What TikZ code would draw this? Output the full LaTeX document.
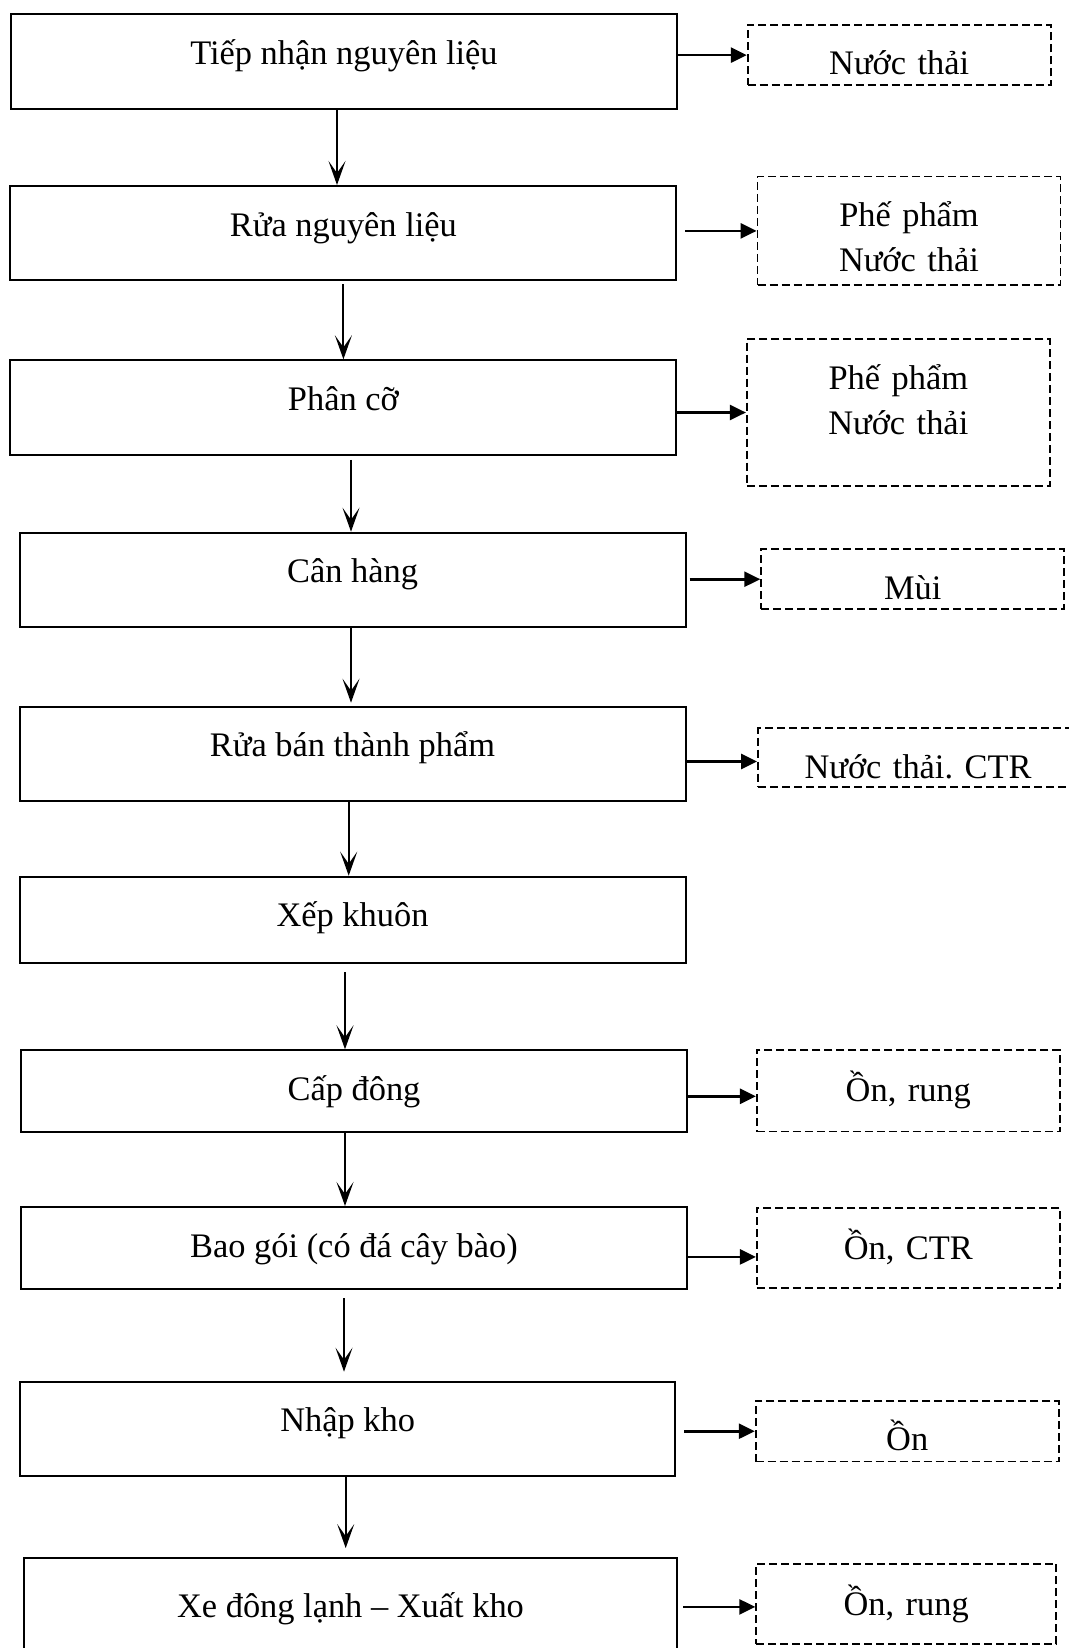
\documentclass[tikz,border=0pt]{standalone}
\usepackage{fontspec}
\setmainfont{Liberation Serif}
\usetikzlibrary{arrows.meta}
\frenchspacing

\begin{document}
\begin{tikzpicture}[x=0.5pt,y=-0.5pt]
	\tikzstyle{stage}=[draw,line width=1pt,inner sep=0pt,minimum width=333pt,text height=25pt,anchor=north,font=\fontsize{17.2pt}{22.5pt}\selectfont]
	\tikzstyle{waste}=[draw,dash pattern=on 4pt off 2pt,line width=0.9pt,inner sep=0pt,minimum width=151.5pt,text width=150pt,align=center,text height=25pt,anchor=north,font=\fontsize{17.2pt}{22.5pt}\selectfont]
	\tikzstyle{flow}=[line width=1pt,-{Stealth[length=12pt,width=8.5pt,inset=6pt]}]
	\tikzstyle{emit}=[line width=1.3pt,-{Triangle[length=8pt,width=7.5pt]}]
	\useasboundingbox (0,0) rectangle (1069,1648);
	% process steps
	\node[stage,text depth=22.2pt](s1) at (344,13.3) {Tiếp nhận nguyên liệu};
	\node[stage,text depth=22.2pt](s2) at (343.4,185) {Rửa nguyên liệu};
	\node[stage,text depth=22.3pt](s3) at (343.4,359.3) {Phân cỡ};
	\node[stage,text depth=22pt](s4) at (352.5,531.7) {Cân hàng};
	\node[stage,text depth=22.2pt](s5) at (352.5,705.7) {Rửa bán thành phẩm};
	\node[stage,text depth=18.3pt](s6) at (352.5,875.7) {Xếp khuôn};
	\node[stage,text depth=15.9pt](s7) at (354,1049.3) {Cấp đông};
	\node[stage,text depth=16.2pt](s8) at (354,1206) {Bao gói (có đá cây bào)};
	\node[stage,minimum width=327.7pt,text depth=22.2pt](s9) at (347.7,1380.7) {Nhập kho};
	\node[stage,minimum width=326.5pt,text height=30pt,text depth=17.5pt](s10) at (350.5,1556.7) {Xe đông lạnh – Xuất kho};
	% outputs
	\node[waste,text depth=5.2pt](w1) at (899.2,24) {Nước thải};
	\node[waste,text depth=29.3pt](w2) at (909,175.7) {Phế phẩm\\Nước thải};
	\node[waste,text depth=48.3pt](w3) at (898.3,338.3) {Phế phẩm\\Nước thải};
	\node[waste,text depth=5pt](w4) at (912.7,548.3) {Mùi};
	\node[waste,minimum width=160pt,text depth=4.3pt](w5) at (918,727.3) {Nước thải. CTR};
	\node[waste,text height=26pt,text depth=14.8pt](w7) at (908.3,1049) {Ồn, rung};
	\node[waste,text height=26pt,text depth=14.3pt](w8) at (908.3,1206.7) {Ồn, CTR};
	\node[waste,text depth=5.3pt](w9) at (907.2,1400) {Ồn};
	\node[waste,minimum width=149.2pt,text height=26pt,text depth=14.3pt](w10) at (906.2,1562.7) {Ồn, rung};
	% main line
	\draw[flow,transform canvas={xshift=-3.5pt}](s1.south) -- (s1.south |- s2.north);
	\draw[flow,shorten <=1.5pt](s2.south) -- (s2.south |- s3.north);
	\draw[flow,shorten <=2pt,transform canvas={xshift=3.8pt}](s3.south) -- (s3.south |- s4.north);
	\draw[flow,shorten >=1.5pt,transform canvas={xshift=-0.75pt}](s4.south) -- (s4.south |- s5.north);
	\draw[flow,transform canvas={xshift=-1.9pt}](s5.south) -- (s5.south |- s6.north);
	\draw[flow,shorten <=4pt,transform canvas={xshift=-3.75pt}](s6.south) -- (s6.south |- s7.north);
	\draw[flow,transform canvas={xshift=-4.5pt}](s7.south) -- (s7.south |- s8.north);
	\draw[flow,shorten <=4pt,shorten >=4.5pt,transform canvas={xshift=-5pt}](s8.south) -- (s8.south |- s9.north);
	\draw[flow,shorten >=4.3pt,transform canvas={xshift=-1pt}](s9.south) -- (s9.south |- s10.north);
	% side outputs
	\draw[emit](s1.east |- w1.west) -- (w1.west);
	\draw[emit,shorten <=4pt](s2.east |- w2.west) -- (w2.west);
	\draw[emit](s3.east |- w3.west) -- (w3.west);
	\draw[emit,shorten <=1.5pt](s4.east |- w4.west) -- (w4.west);
	\draw[emit,transform canvas={yshift=-2pt}](s5.east |- w5.west) -- (w5.west);
	\draw[emit,transform canvas={yshift=-2.8pt}](s7.east |- w7.west) -- (w7.west);
	\draw[emit,transform canvas={yshift=-4.5pt}](s8.east |- w8.west) -- (w8.west);
	\draw[emit,shorten <=4pt](s9.east |- w9.west) -- (w9.west);
	\draw[emit,shorten <=2.5pt,transform canvas={yshift=-1.5pt}](s10.east |- w10.west) -- (w10.west);
\end{tikzpicture}
\end{document}
